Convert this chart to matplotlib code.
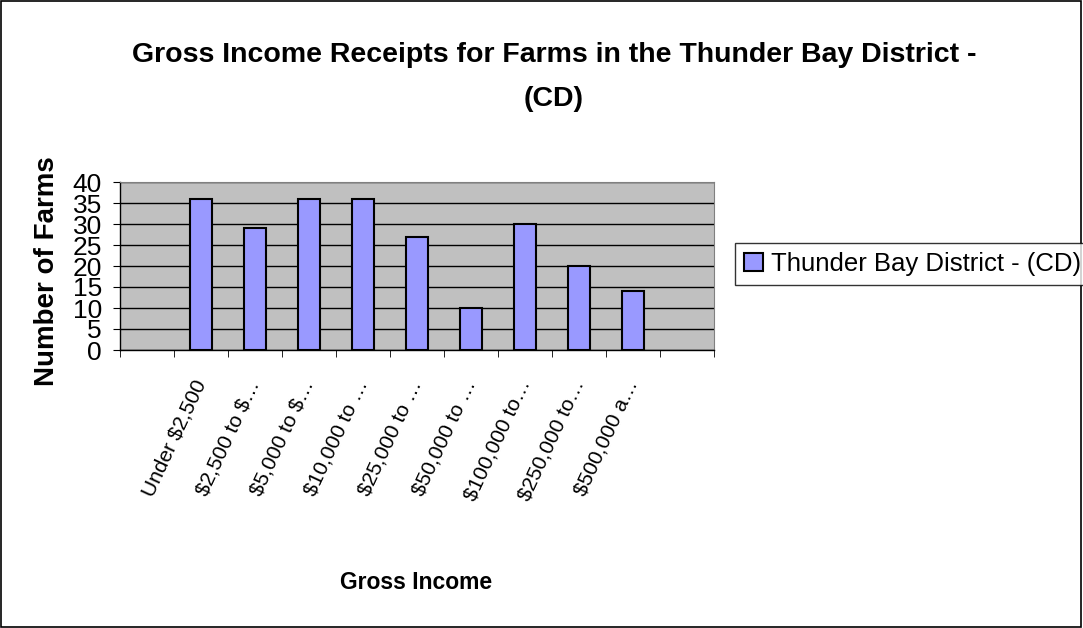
import matplotlib
matplotlib.use("Agg")
import matplotlib.pyplot as plt
from matplotlib.patches import Rectangle
import numpy as np

plt.rcParams['font.family'] = ['Liberation Sans', 'DejaVu Sans']

categories = ["", "Under \\$2,500", "\\$2,500 to \\$…", "\\$5,000 to \\$…", "\\$10,000 to …",
              "\\$25,000 to …", "\\$50,000 to …", "\\$100,000 to…", "\\$250,000 to…",
              "\\$500,000 a…", ""]
values = [np.nan, 36, 29, 36, 36, 27, 10, 30, 20, 14, np.nan]
series_name = "Thunder Bay District - (CD)"
title_lines = ["Gross Income Receipts for Farms in the Thunder Bay District -", "(CD)"]
xlabel = "Gross Income"
ylabel = "Number of Farms"
yticks = [0, 5, 10, 15, 20, 25, 30, 35, 40]

W, H = 1083, 628
fig = plt.figure(figsize=(W / 100, H / 100), dpi=100)
fig.patch.set_facecolor("white")
fig.patches.append(Rectangle((0.0005, 0.001), 0.998, 0.997, transform=fig.transFigure,
                             fill=False, edgecolor="black", linewidth=1.2))

ax = fig.add_axes([120 / W, 1 - 350 / H, 594 / W, 168 / H])
ax.set_facecolor("#C0C0C0")
x = np.arange(len(categories))
ax.bar(x, values, width=0.42, color="#9999FF", edgecolor="black", linewidth=1.5,
       label=series_name, zorder=3)
ax.set_xlim(-0.5, len(categories) - 0.5)
ax.set_ylim(0, 40)
ax.set_yticks(yticks)
ax.set_yticklabels([str(v) for v in yticks], fontsize=19)
ax.yaxis.grid(True, color="black", linewidth=1.0, zorder=1)
ax.set_axisbelow(True)

ax.set_xticks(x)
ax.set_xticklabels(categories, rotation=65, ha="right", va="center",
                   rotation_mode="anchor", fontsize=15)
ax.tick_params(axis="x", which="major", length=0, pad=22)
ax.set_xticks(np.arange(-0.5, len(categories) + 0.5, 1), minor=True)
ax.tick_params(axis="x", which="minor", length=5, direction="out", color="black")
ax.tick_params(axis="y", length=5, direction="out", color="black", pad=8)

for s in ["top", "right"]:
    ax.spines[s].set_color("#808080")
for s in ["left", "bottom"]:
    ax.spines[s].set_color("black")
    ax.spines[s].set_linewidth(1.0)

fig.text(554 / W, 1 - 62 / H, title_lines[0], ha="center", va="baseline", fontsize=20.5,
         fontweight="bold")
fig.text(554 / W, 1 - 106 / H, title_lines[1], ha="center", va="baseline", fontsize=20.5,
         fontweight="bold")
fig.text(416 / W, 1 - 589 / H, xlabel, ha="center", va="baseline", fontsize=16.5,
         fontweight="bold")
fig.text(47 / W, 1 - 271 / H, ylabel, ha="center", va="center", fontsize=20,
         fontweight="bold", rotation=90)

leg = fig.legend(loc="upper left", bbox_to_anchor=(735 / W, 1 - 243 / H), fontsize=18.5,
                 frameon=True, fancybox=False, edgecolor="black", handlelength=0.75,
                 handleheight=0.75, handletextpad=0.3, borderpad=0.35, borderaxespad=0)
leg.get_frame().set_linewidth(1.0)

fig.savefig("out.png", dpi=100)
